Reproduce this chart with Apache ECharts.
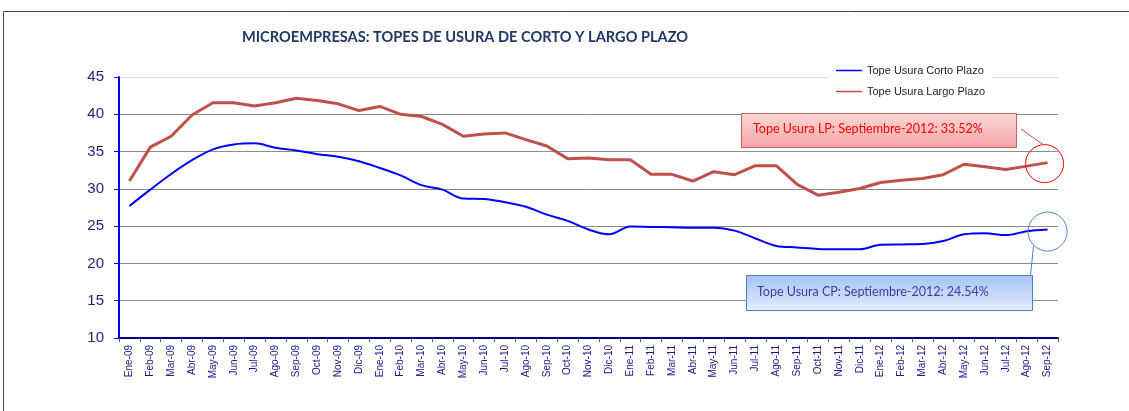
<!DOCTYPE html>
<html>
<head>
<meta charset="utf-8">
<title>Microempresas: topes de usura</title>
<script src="https://cdn.jsdelivr.net/npm/echarts@6/dist/echarts.min.js"></script>
<style>
  html, body { margin: 0; padding: 0; background: #fff; }
  #chart { width: 1129px; height: 411px; }
</style>
</head>
<body>
<div id="chart"></div>
<script>
// meses (Ene-09 .. Sep-12)
const categories = [
  'Ene-09', 'Feb-09', 'Mar-09', 'Abr-09', 'May-09', 'Jun-09', 'Jul-09', 'Ago-09', 'Sep-09', 'Oct-09', 'Nov-09', 'Dic-09',
  'Ene-10', 'Feb-10', 'Mar-10', 'Abr-10', 'May-10', 'Jun-10', 'Jul-10', 'Ago-10', 'Sep-10', 'Oct-10', 'Nov-10', 'Dic-10',
  'Ene-11', 'Feb-11', 'Mar-11', 'Abr-11', 'May-11', 'Jun-11', 'Jul-11', 'Ago-11', 'Sep-11', 'Oct-11', 'Nov-11', 'Dic-11',
  'Ene-12', 'Feb-12', 'Mar-12', 'Abr-12', 'May-12', 'Jun-12', 'Jul-12', 'Ago-12', 'Sep-12'
];

// Tope Usura Corto Plazo (%)
const cortoPlazo = [
  27.7, 29.9, 32.0, 33.85, 35.3, 35.95, 36.1, 35.5, 35.15, 34.65, 34.3, 33.7,
  32.8, 31.8, 30.5, 29.9, 28.7, 28.65, 28.2, 27.6, 26.55, 25.7, 24.55, 23.9,
  24.95, 24.9, 24.85, 24.8, 24.8, 24.4, 23.35, 22.35, 22.15, 21.95, 21.9, 21.9,
  22.5, 22.55, 22.6, 23.0, 23.9, 24.05, 23.8, 24.3, 24.54
];

// Tope Usura Largo Plazo (%)
const largoPlazo = [
  31.05, 35.6, 37.05, 39.9, 41.55, 41.55, 41.1, 41.55, 42.15, 41.85, 41.4, 40.5,
  41.05, 40.0, 39.7, 38.65, 37.05, 37.35, 37.5, 36.6, 35.75, 34.05, 34.15, 33.9,
  33.9, 31.95, 31.95, 31.05, 32.3, 31.9, 33.1, 33.1, 30.6, 29.15, 29.55, 30.05,
  30.85, 31.15, 31.4, 31.9, 33.3, 32.95, 32.6, 33.05, 33.52
];

const seriesNames = ['Tope Usura Corto Plazo', 'Tope Usura Largo Plazo'];
const yTicks = { min: 10, max: 45, step: 5 };
const notaLP = 'Tope Usura LP: Septiembre-2012: 33.52%';
const notaCP = 'Tope Usura CP: Septiembre-2012: 24.54%';

const last = categories.length - 1;

let myChart = echarts.init(document.getElementById('chart'));

// colores de las lineas de la grilla: la de 45 mas clara
let gridColors = [];
for (let v = yTicks.min; v <= yTicks.max; v += yTicks.step) {
  gridColors.push(v === yTicks.max ? '#d9d9d9' : '#8c8c8c');
}

let option = {
  animation: false,
  title: {
    text: 'MICROEMPRESAS: TOPES DE USURA DE CORTO Y LARGO PLAZO',
    left: 242,
    top: 30,
    padding: 0,
    textStyle: { fontFamily: 'Lato', fontWeight: 'bold', fontSize: 14.6, color: '#1f3864' }
  },
  legend: {
    orient: 'vertical',
    left: 828,
    top: 61,
    padding: [3, 8],
    itemWidth: 26,
    itemHeight: 1.5,
    itemGap: 8,
    icon: 'rect',
    backgroundColor: '#fff',
    textStyle: { fontFamily: 'Liberation Sans', fontSize: 11, color: '#222', lineHeight: 13 },
    data: seriesNames
  },
  grid: { left: 119, right: 71, top: 77, bottom: 73 },
  xAxis: {
    type: 'category',
    data: categories,
    boundaryGap: true,
    axisLine: { lineStyle: { color: '#000080', width: 2 } },
    axisTick: { show: true, interval: 0, length: 4, lineStyle: { color: '#5050a0' } },
    axisLabel: {
      interval: 0, rotate: 90, margin: 7,
      fontFamily: 'Liberation Sans', fontSize: 10, color: '#1a1a8c'
    },
    splitLine: { show: false }
  },
  yAxis: {
    type: 'value',
    min: yTicks.min,
    max: yTicks.max,
    interval: yTicks.step,
    axisLine: { show: true, lineStyle: { color: '#0000ff', width: 2 } },
    axisTick: { show: true, length: 5, lineStyle: { color: '#0000ff' } },
    axisLabel: { fontFamily: 'Liberation Sans', fontSize: 15, color: '#1f1f7a', margin: 15 },
    splitLine: { lineStyle: { color: gridColors, width: 1 } }
  },
  series: [
    {
      name: seriesNames[0],
      type: 'line',
      data: cortoPlazo,
      smooth: 0.35,
      symbol: 'none',
      lineStyle: { color: '#0000ff', width: 2 },
      itemStyle: { color: '#0000ff' },
      markPoint: {
        symbol: 'circle',
        symbolSize: 39,
        symbolOffset: [0, 2],
        silent: true,
        label: { show: false },
        itemStyle: { color: 'rgba(0,0,0,0)', borderColor: '#4f81bd', borderWidth: 1 },
        data: [{ coord: [categories[last], cortoPlazo[last]] }]
      }
    },
    {
      name: seriesNames[1],
      type: 'line',
      data: largoPlazo,
      symbol: 'none',
      lineStyle: { color: '#c0504d', width: 3 },
      itemStyle: { color: '#c0504d' },
      markPoint: {
        symbol: 'circle',
        symbolSize: 38,
        symbolOffset: [-3, 1],
        silent: true,
        label: { show: false },
        itemStyle: { color: 'rgba(0,0,0,0)', borderColor: '#ff0000', borderWidth: 1 },
        data: [{ coord: [categories[last], largoPlazo[last]] }]
      }
    }
  ],
  graphic: [
    // marco exterior
    {
      type: 'rect', silent: true, z: 0,
      shape: { x: 3.5, y: 11.5, width: 1200, height: 500 },
      style: { fill: 'none', stroke: '#444', lineWidth: 1 }
    },
    // nota largo plazo
    {
      type: 'line', silent: true, z: 10,
      shape: { x1: 1021, y1: 129, x2: 1043, y2: 144.5 },
      style: { stroke: '#c0504d', lineWidth: 1 }
    },
    {
      type: 'rect', silent: true, z: 10,
      shape: { x: 741.5, y: 113.5, width: 275, height: 34 },
      style: {
        stroke: '#d06060', lineWidth: 1,
        fill: new echarts.graphic.LinearGradient(0, 0, 0, 1, [
          { offset: 0, color: '#fcd8d8' },
          { offset: 1, color: '#f4a4a4' }
        ])
      }
    },
    {
      type: 'text', silent: true, z: 11,
      left: 753, top: 122,
      style: { text: notaLP, fill: '#ff0000', font: '12.5px Lato' }
    },
    // nota corto plazo
    {
      type: 'line', silent: true, z: 10,
      shape: { x1: 1033.5, y1: 246, x2: 1030.5, y2: 275.5 },
      style: { stroke: '#4f81bd', lineWidth: 1 }
    },
    {
      type: 'rect', silent: true, z: 10,
      shape: { x: 746.5, y: 275.5, width: 286, height: 35 },
      style: {
        stroke: '#4f81bd', lineWidth: 1,
        fill: new echarts.graphic.LinearGradient(0, 0, 0, 1, [
          { offset: 0, color: '#a6c3f5' },
          { offset: 1, color: '#e4edfc' }
        ])
      }
    },
    {
      type: 'text', silent: true, z: 11,
      left: 757, top: 285,
      style: { text: notaCP, fill: '#3c3ca6', font: '12.5px Lato' }
    }
  ]
};
myChart.setOption(option);
</script>
</body>
</html>
